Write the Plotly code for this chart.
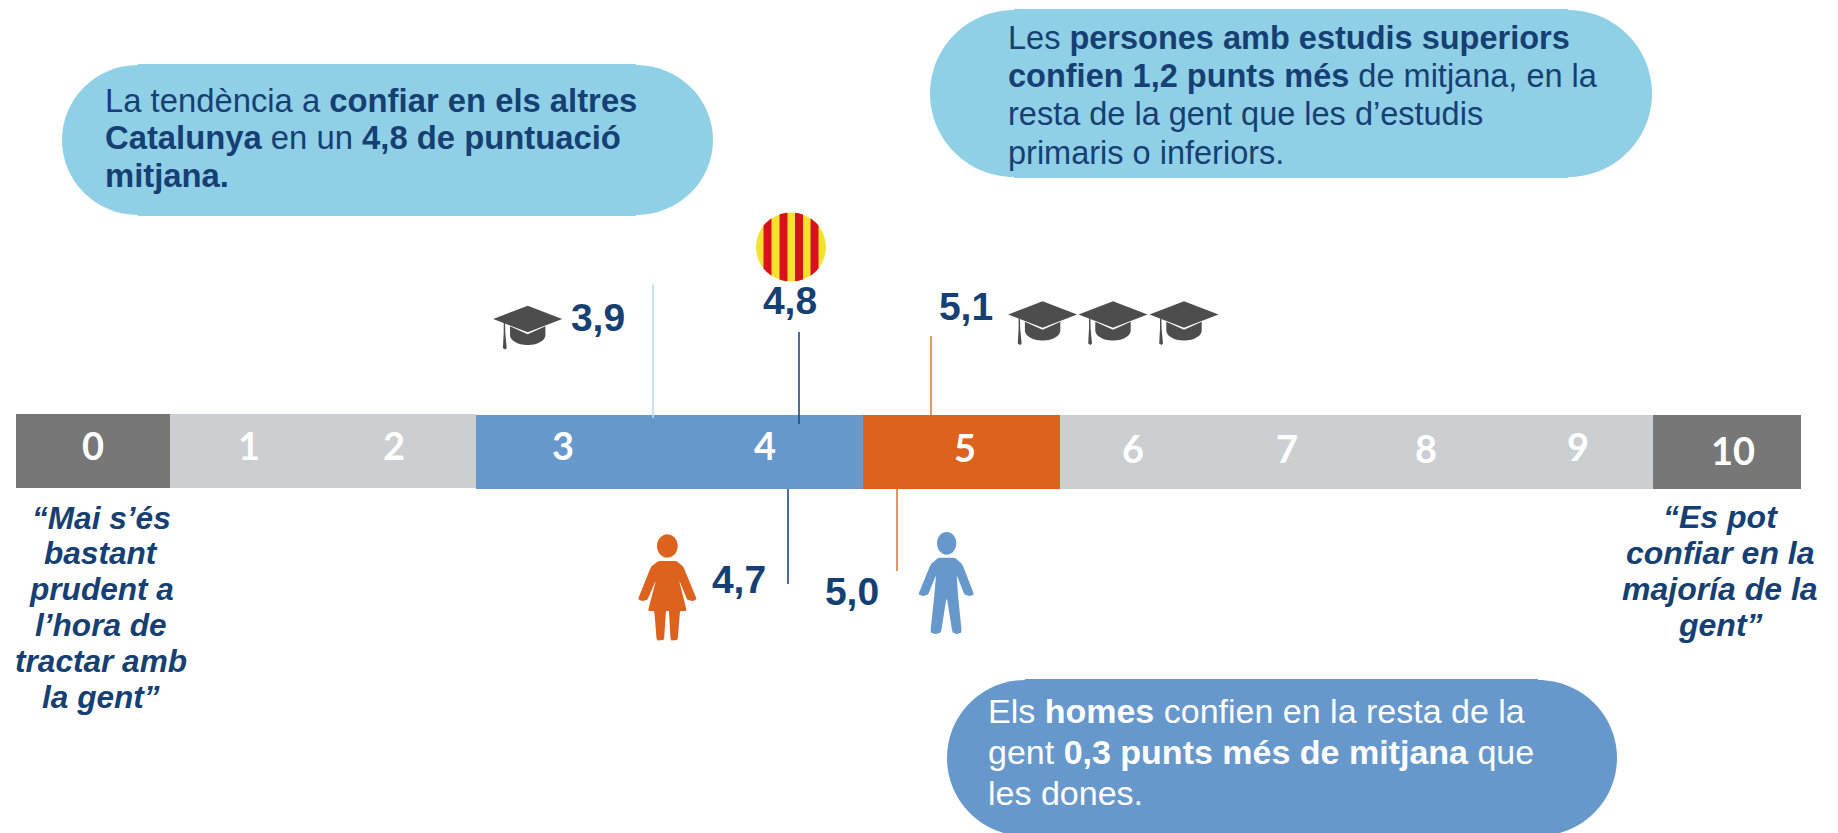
import numpy as np
import plotly.graph_objects as go

# ---- data ----
segment_start = [16, 170, 476, 863, 1060, 1653]
segment_end = [170, 476, 863, 1060, 1653, 1801]
segment_top = [414, 414, 415, 415, 415, 415]
segment_bottom = [488, 488, 489, 489, 489, 489]
segment_colors = ["#777777", "#CCCFD1", "#6798CC", "#DD621E", "#CCCFD1", "#777777"]

scale_labels = ["0", "1", "2", "3", "4", "5", "6", "7", "8", "9", "10"]
scale_x = [93, 249, 394, 563, 765, 965, 1133, 1287, 1426, 1578, 1733]
scale_y = [450, 450, 450, 450, 450, 452, 453, 453, 453, 451, 455]

value_labels = ["3,9", "4,8", "5,1", "4,7", "5,0"]
value_x = [598, 790, 966, 739, 852]
value_y = [321, 304, 310, 583, 595]

line_x = [653, 799, 931, 788, 897]
line_from = [284, 332, 336, 489, 489]
line_to = [418, 424, 415, 584, 571]
line_colors = ["#B5DEEE", "#1F4A85", "#E6793F", "#1F4A85", "#E6793F"]

left_quote = ["“Mai s’és", "bastant", "prudent a", "l’hora de", "tractar amb", "la gent”"]
left_quote_y = [518, 553, 589, 625, 661, 697]
right_quote = ["“Es pot", "confiar en la", "majoría de la", "gent”"]
right_quote_y = [517, 553, 589, 625]

callout1 = ["La tendència a <b>confiar en els altres</b>",
            "<b>Catalunya</b> en un <b>4,8 de puntuació</b>",
            "<b>mitjana.</b>"]
callout1_y = [100, 137, 175]
callout2 = ["Les <b>persones amb estudis superiors</b>",
            "<b>confien 1,2 punts més</b> de mitjana, en la",
            "resta de la gent que les d’estudis",
            "primaris o inferiors."]
callout2_y = [38, 76, 114, 153]
callout3 = ["Els <b>homes</b> confien en la resta de la",
            "gent <b>0,3 punts més de mitjana</b> que",
            "les dones."]
callout3_y = [711, 752, 793]

NAVY = "#163F73"
SANS = "Liberation Sans"

fig = go.Figure()

# scale bar
for s, e, t, b, c in zip(segment_start, segment_end, segment_top, segment_bottom, segment_colors):
    fig.add_trace(go.Bar(orientation="h", base=[s], x=[e - s], y=[(t + b) / 2], width=[b - t],
                         marker=dict(color=c, line=dict(width=0)), showlegend=False, hoverinfo="skip"))

# leader lines
for x, a, b, c in zip(line_x, line_from, line_to, line_colors):
    fig.add_trace(go.Scatter(x=[x, x], y=[a, b], mode="lines", line=dict(color=c, width=1.6),
                             showlegend=False, hoverinfo="skip"))

# scale numbers and values
fig.add_trace(go.Scatter(x=scale_x, y=scale_y, mode="text", text=["<b>%s</b>" % s for s in scale_labels],
                         textposition="middle center",
                         textfont=dict(family="Lato", size=38, color="white"),
                         showlegend=False, hoverinfo="skip"))
fig.add_trace(go.Scatter(x=value_x, y=value_y, mode="text", text=["<b>%s</b>" % s for s in value_labels],
                         textposition="middle center",
                         textfont=dict(family=SANS, size=39, color=NAVY),
                         showlegend=False, hoverinfo="skip"))


def pill(x0, x1, y0, y1, color, fx0, fx1):
    k = 0.5523
    ym = (y0 + y1) / 2
    ry = (y1 - y0) / 2
    rx0, rx1 = fx0 - x0, x1 - fx1
    p = (f"M{fx0},{y0} L{fx1},{y0} "
         f"C{fx1 + k * rx1},{y0} {x1},{ym - k * ry} {x1},{ym} "
         f"C{x1},{ym + k * ry} {fx1 + k * rx1},{y1} {fx1},{y1} "
         f"L{fx0},{y1} "
         f"C{fx0 - k * rx0},{y1} {x0},{ym + k * ry} {x0},{ym} "
         f"C{x0},{ym - k * ry} {fx0 - k * rx0},{y0} {fx0},{y0} Z")
    fig.add_shape(type="path", path=p, fillcolor=color, line=dict(width=0), layer="below")
    fig.add_shape(type="rect", x0=fx0, x1=fx1, y0=y0 - 1, y1=y1 + 1, fillcolor=color, line=dict(width=0), layer="below")


pill(62, 713, 65, 215, "#8FD0E6", 138, 636)
pill(930, 1652, 10, 177, "#8FD0E6", 1014, 1568)
pill(947, 1617, 680, 836, "#6798CC", 1025, 1538)


def poly(points, color):
    p = "M" + " L".join(f"{x:.1f},{y:.1f}" for x, y in points) + " Z"
    fig.add_shape(type="path", path=p, fillcolor=color, line=dict(width=0), layer="above")


def ellipse_pts(cx, cy, rx, ry, a0=0, a1=2 * np.pi, n=40):
    t = np.linspace(a0, a1, n)
    return list(zip(cx + rx * np.cos(t), cy + ry * np.sin(t)))


def chaikin(points, f=0.08):
    out = []
    n = len(points)
    for i in range(n):
        (x0, y0), (x1, y1) = points[i], points[(i + 1) % n]
        out.append(((1 - f) * x0 + f * x1, (1 - f) * y0 + f * y1))
        out.append((f * x0 + (1 - f) * x1, f * y0 + (1 - f) * y1))
    return out


def cap(cx, cy):
    c = "#4D4D4D"
    # board
    poly([(cx - 34.5, cy), (cx, cy - 13.3), (cx + 34.5, cy), (cx, cy + 13.3)], c)
    # bowl
    bowl = [(cx - 17.7, cy + 7.3), (cx, cy + 15.3), (cx + 17.7, cy + 7.3), (cx + 17.7, cy + 16)]
    bowl += ellipse_pts(cx, cy + 16, 17.7, 10, 0, np.pi, 24)[1:-1]
    bowl += [(cx - 17.7, cy + 16)]
    poly(bowl, c)
    # tassel
    poly([(cx - 24, cy + 4), (cx - 22.6, cy + 4), (cx - 22.4, cy + 14), (cx - 21, cy + 29),
          (cx - 22.5, cy + 30.5), (cx - 24.8, cy + 29), (cx - 24, cy + 14)], c)


cap(527.7, 319)
cap(1042.6, 314.5)
cap(1113, 314.5)
cap(1184, 314.5)

# flag
fig.add_shape(type="circle", x0=756, x1=826, y0=212.5, y1=281.5, fillcolor="#F5E22E", line=dict(width=0))
for a, b in [(763.5, 771.5), (779.5, 787.5), (795, 803), (810.5, 818.5)]:
    cx, cy, r = 791, 247, 35
    xs = np.linspace(a, b, 8)
    hs = 34.5 * np.sqrt(np.clip(1 - ((xs - cx) / r) ** 2, 0, 1))
    poly(list(zip(xs, cy - hs)) + list(zip(xs[::-1], cy + hs[::-1])), "#D8121C")


def figure_icon(ox, oy, head, head_r, outline, color):
    def pt(x, y):
        return ox + x / 3, oy + y / 3
    hx, hy = pt(*head)
    poly(ellipse_pts(hx, hy, head_r[0] / 3, head_r[1] / 3), color)
    poly(chaikin([pt(x, y) for x, y in outline]), color)


figure_icon(630, 525, (112, 63), (31, 35),
            [(85, 108), (140, 108), (160, 125), (200, 222), (190, 228), (172, 225), (147, 165), (170, 258),
             (150, 258), (143, 345), (122, 347), (117, 258), (108, 258), (102, 345), (80, 347), (73, 258),
             (54, 258), (78, 165), (52, 225), (35, 228), (24, 222), (63, 125)], "#DD621E")
figure_icon(905, 525, (125, 55), (29, 34),
            [(100, 98), (150, 98), (172, 118), (207, 208), (195, 213), (178, 208), (155, 150), (159, 210),
             (170, 322), (155, 327), (142, 322), (125, 215), (108, 322), (92, 327), (76, 322), (88, 210),
             (93, 150), (70, 208), (55, 213), (40, 208), (77, 118)], "#6798CC")


def text_lines(lines, ys, x, anchor, size, color, italic=False):
    for t, y in zip(lines, ys):
        s = f"<b><i>{t}</i></b>" if italic else t
        fig.add_annotation(x=x, y=y, text=s, showarrow=False, xanchor=anchor, yanchor="middle",
                           font=dict(family=SANS, size=size, color=color), borderpad=0)


text_lines(callout1, callout1_y, 104, "left", 32.8, NAVY)
text_lines(callout2, callout2_y, 1007, "left", 32.5, NAVY)
text_lines(callout3, callout3_y, 987, "left", 34, "white")
text_lines(left_quote, left_quote_y, 101, "center", 31.6, NAVY, italic=True)
text_lines(right_quote, right_quote_y, 1720, "center", 32, NAVY, italic=True)

fig.update_layout(
    width=1838, height=833, margin=dict(l=0, r=0, t=0, b=0),
    paper_bgcolor="white", plot_bgcolor="white", barmode="overlay", showlegend=False,
    xaxis=dict(range=[0, 1838], visible=False, fixedrange=True),
    yaxis=dict(range=[833, 0], visible=False, fixedrange=True),
)

fig.write_html("out.html", config={"displayModeBar": False},
               post_script="document.body.style.margin='0';document.body.style.overflow='hidden';")
